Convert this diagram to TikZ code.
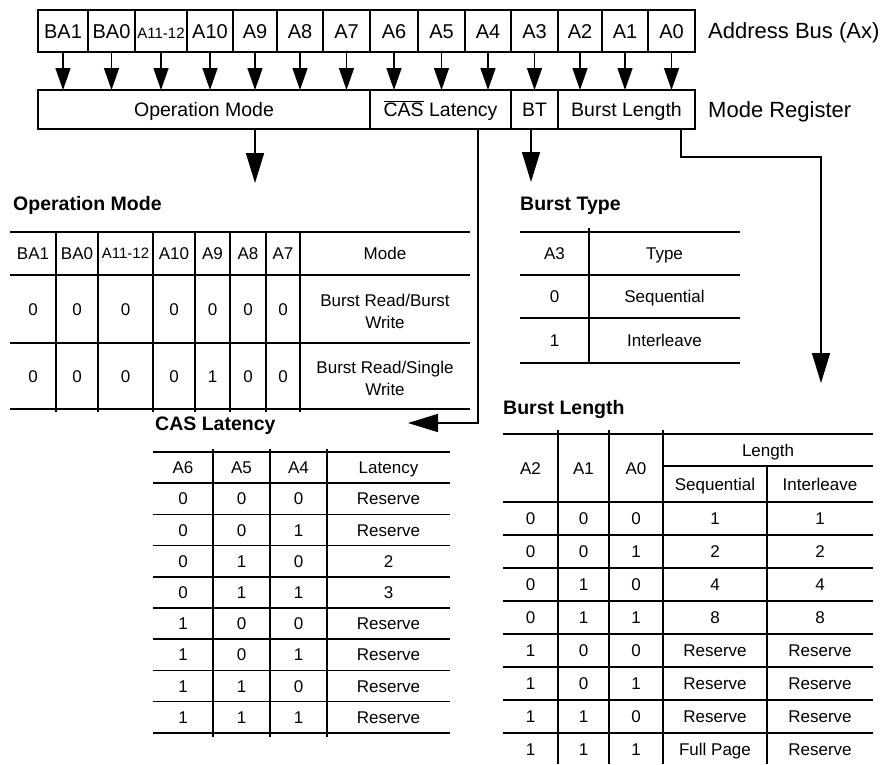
\documentclass[tikz,border=0pt]{standalone}
\usepackage{fontspec}
\setmainfont{Liberation Sans}
\usetikzlibrary{arrows.meta,positioning}

\begin{document}
\begin{tikzpicture}[x=1pt, y=-1pt,
  busbit/.style={draw, line width=1.3pt, minimum height=42, inner sep=0pt, outer sep=0pt, text height=14.3pt, text depth=0pt, font=\fontsize{20}{22}\selectfont},
  regfield/.style={draw, line width=1.3pt, minimum height=39, inner sep=0pt, outer sep=0pt, text height=14pt, text depth=0pt, font=\fontsize{19.5}{22}\selectfont},
  modecell/.style={inner sep=0pt, align=center, font=\fontsize{17}{22}\selectfont},
  tabcell/.style={modecell, text height=12.2pt, text depth=0pt},
  tabtitle/.style={anchor=west, inner sep=0pt, text height=14pt, text depth=0pt, font=\fontsize{19.5}{22}\selectfont\bfseries},
  sidelabel/.style={anchor=west, inner sep=0pt, text height=15.8pt, text depth=0pt, font=\fontsize{22}{24}\selectfont},
  tabline/.style={line width=1.6pt},
  bitarrow/.style={-{Triangle[length=22pt, width=15pt]}, line width=1.4pt},
  regarrow/.style={-{Triangle[length=30pt, width=18pt]}, line width=1.6pt}
]
\useasboundingbox (0,0) rectangle (885,764);

% address bus
\node[busbit, minimum width=50, anchor=west] (ba1) at (38,31) {BA1};
\node[busbit, minimum width=47] (ba0) [right=0pt of ba1] {BA0};
\node[busbit, minimum width=52, font=\fontsize{15}{16}\selectfont] (a11) [right=0pt of ba0] {A11-12};
\node[busbit, minimum width=46] (a10) [right=0pt of a11] {A10};
\node[busbit, minimum width=44] (a9) [right=0pt of a10] {A9};
\node[busbit, minimum width=46] (a8) [right=0pt of a9] {A8};
\node[busbit, minimum width=47] (a7) [right=0pt of a8] {A7};
\node[busbit, minimum width=48] (a6) [right=0pt of a7] {A6};
\node[busbit, minimum width=47] (a5) [right=0pt of a6] {A5};
\node[busbit, minimum width=46] (a4) [right=0pt of a5] {A4};
\node[busbit, minimum width=47] (a3) [right=0pt of a4] {A3};
\node[busbit, minimum width=44] (a2) [right=0pt of a3] {A2};
\node[busbit, minimum width=46] (a1) [right=0pt of a2] {A1};
\node[busbit, minimum width=47] (a0) [right=0pt of a1] {A0};
\node[sidelabel] (busname) [right=13pt of a0] {Address Bus (Ax)};

% mode register
\node[regfield, minimum width=332, anchor=west] (opm) at (38,109.5) {Operation Mode};
\node[regfield, minimum width=141] (cas) [right=0pt of opm] {$\overline{\mbox{CAS}}$ Latency};
\node[regfield, minimum width=47] (bt) [right=0pt of cas] {BT};
\node[regfield, minimum width=137] (bl) [right=0pt of bt] {Burst Length};
\node[sidelabel] (regname) [right=13pt of bl] {Mode Register};

\foreach \b in {ba1,ba0,a11,a10,a9,a8,a7,a6,a5,a4,a3,a2,a1,a0}
  \draw[bitarrow] (\b) -- (\b |- opm.north);

\coordinate (opmTip) at (255,183);
\coordinate (btTip) at (531,182);
\coordinate (casTip) at (408,423);
\coordinate (blTip) at (821,383);
\draw[regarrow] ([xshift=51pt]opm.south) -- (opmTip);
\draw[regarrow] ([xshift=-3.5pt]bt.south) -- (btTip);
\draw[regarrow] ([xshift=37.5pt]cas.south) |- (casTip);
\draw[regarrow] ([xshift=54.5pt]bl.south) -- ++(0,28) -| (blTip);

% operation mode table
\node[tabtitle] (omTitle) at (13,203) {Operation Mode};
\foreach \y in {232,275,343,409}
  \draw[tabline] (10,\y) -- (470,\y);
\foreach \x in {56,98,153,195,230,266,300}
  \draw[tabline] (\x,232) -- (\x,412);
\foreach \x/\t [count=\i] in {33/BA1,77/BA0,174/A10,212.5/A9,248/A8,283/A7,385/Mode}
  \node[tabcell] (omh\i) at (\x,253.5) {\t};
\node[tabcell, font=\fontsize{15}{16}\selectfont, text height=10.7pt] (omh0) at (125.5,253.5) {A11-12};
\foreach \x/\p/\q [count=\i] in {33/0/0,77/0/0,125.5/0/0,174/0/0,212.5/0/1,248/0/0,283/0/0}{
  \node[tabcell] (omr\i) at (\x,309) {\p};
  \node[tabcell] (oms\i) at (\x,376) {\q};
}
\node[modecell] (omMode1) at (385,311) {Burst Read/Burst\\Write};
\node[modecell] (omMode2) at (385,378) {Burst Read/Single\\Write};

% burst type table
\node[tabtitle] (btTitle) at (520,203) {Burst Type};
\foreach \y in {232,275,318,363}
  \draw[tabline] (520,\y) -- (740,\y);
\draw[tabline] (589,228) -- (589,363);
\foreach \a/\t/\y [count=\i] in {A3/Type/253.5,0/Sequential/296.5,1/Interleave/340.5}{
  \node[tabcell] (bta\i) at (554.5,\y) {\a};
  \node[tabcell] (btt\i) at (664.5,\y) {\t};
}

% cas latency table
\node[tabtitle] (casTitle) at (155,423) {CAS Latency};
\foreach \i in {0,...,9}
  \draw[tabline] (153,{452+31.2*\i}) -- (450,{452+31.2*\i});
\foreach \x in {213,270,327}
  \draw[tabline] (\x,449) -- (\x,737);
\foreach \x/\t [count=\i] in {183/A6,241.5/A5,298.5/A4,388.5/Latency}
  \node[tabcell] (cash\i) at (\x,467.6) {\t};
\foreach \a/\b/\c/\l [count=\i] in {0/0/0/Reserve,0/0/1/Reserve,0/1/0/2,0/1/1/3,1/0/0/Reserve,1/0/1/Reserve,1/1/0/Reserve,1/1/1/Reserve}{
  \node[tabcell] (casa\i) at (183,{467.6+31.2*\i}) {\a};
  \node[tabcell] (casb\i) at (241.5,{467.6+31.2*\i}) {\b};
  \node[tabcell] (casc\i) at (298.5,{467.6+31.2*\i}) {\c};
  \node[tabcell] (casl\i) at (388.5,{467.6+31.2*\i}) {\l};
}

% burst length table
\node[tabtitle] (blTitle) at (503,407) {Burst Length};
\draw[tabline] (503,434) -- (873,434);
\draw[tabline] (663,466) -- (873,466);
\foreach \i in {0,...,7}
  \draw[tabline] (503,{502+33*\i}) -- (873,{502+33*\i});
\foreach \x in {558,609,663}
  \draw[tabline] (\x,430) -- (\x,764);
\draw[tabline] (767,466) -- (767,764);
\foreach \x/\t [count=\i] in {530.5/A2,583.5/A1,636/A0}
  \node[tabcell] (blh\i) at (\x,468) {\t};
\node[tabcell] (blLen) at (768,450) {Length};
\node[tabcell] (blSeq) at (715,484) {Sequential};
\node[tabcell] (blInt) at (820,484) {Interleave};
\foreach \a/\b/\c/\s/\n [count=\i] in {0/0/0/1/1,0/0/1/2/2,0/1/0/4/4,0/1/1/8/8,1/0/0/Reserve/Reserve,1/0/1/Reserve/Reserve,1/1/0/Reserve/Reserve,1/1/1/Full Page/Reserve}{
  \node[tabcell] (bla\i) at (530.5,{485.5+33*\i}) {\a};
  \node[tabcell] (blb\i) at (583.5,{485.5+33*\i}) {\b};
  \node[tabcell] (blc\i) at (636,{485.5+33*\i}) {\c};
  \node[tabcell] (bls\i) at (715,{485.5+33*\i}) {\s};
  \node[tabcell] (bln\i) at (820,{485.5+33*\i}) {\n};
}

\end{tikzpicture}
\end{document}
